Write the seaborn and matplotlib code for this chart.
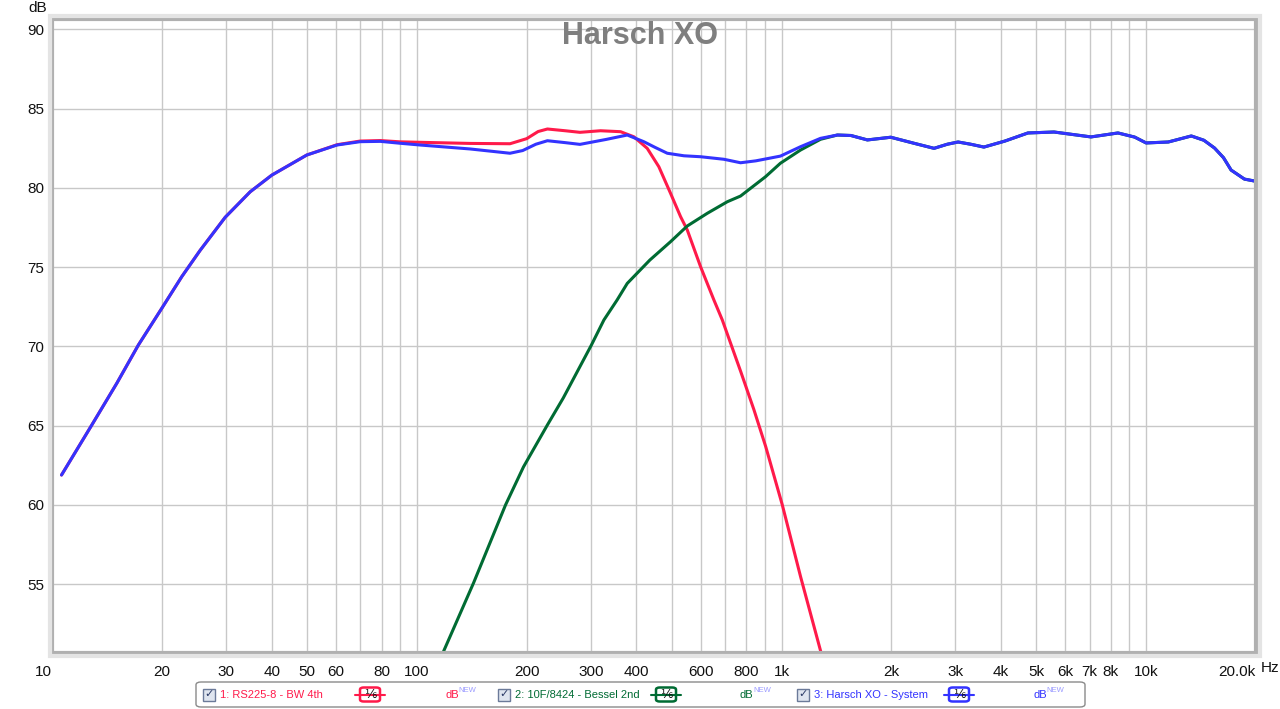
import numpy as np
import pandas as pd
import matplotlib
matplotlib.use('Agg')
import matplotlib.pyplot as plt
from matplotlib.patches import FancyBboxPatch, Rectangle
from matplotlib.lines import Line2D
import seaborn as sns

# values (Hz, dB)
sys_freq = [10.6, 12.83, 15.03, 17.22, 19.97, 22.66, 25.43, 29.8, 34.9, 40.0, 49.9, 60.4,
            69.9, 79.4, 90, 102, 140, 180, 195, 212, 228, 255, 280, 330, 377.5, 419, 450,
            486, 540, 600, 695, 772, 850, 993, 1127, 1279, 1423, 1550, 1720, 1993, 2308,
            2620, 2850, 3050, 3300, 3590, 4100, 4740, 5590, 7060, 8370, 9300, 10000, 11500,
            13300, 14400, 15400, 16300, 17100, 18600, 19800]
sys_db = [61.88, 65.03, 67.67, 70.08, 72.4, 74.4, 76.05, 78.14, 79.75, 80.8, 82.07, 82.7,
          82.91, 82.93, 82.81, 82.7, 82.45, 82.18, 82.35, 82.75, 82.97, 82.85, 82.74, 83.05,
          83.33, 82.91, 82.55, 82.18, 82.02, 81.96, 81.8, 81.58, 81.7, 82.0, 82.59, 83.12,
          83.33, 83.3, 83.02, 83.19, 82.81, 82.49, 82.75, 82.89, 82.75, 82.57, 82.95, 83.46,
          83.52, 83.21, 83.46, 83.2, 82.83, 82.89, 83.27, 83.0, 82.51, 81.9, 81.12, 80.55,
          80.43]

woofer_freq = [10.6, 12.83, 15.03, 17.22, 19.97, 22.66, 25.43, 29.8, 34.9, 40.0, 49.9, 60.4,
               69.9, 79.4, 90, 102, 140, 180, 200, 215, 228, 255, 280, 318.8, 361.9, 393.5,
               428.2, 460.8, 496.2, 528.6, 551.4, 599.8, 652.5, 688, 773, 840, 905,
               1005, 1128, 1300]
woofer_db = [61.88, 65.03, 67.67, 70.08, 72.4, 74.4, 76.05, 78.14, 79.75, 80.8, 82.07, 82.72,
             82.95, 82.98, 82.9, 82.87, 82.8, 82.78, 83.1, 83.55, 83.71, 83.6, 83.5, 83.6,
             83.54, 83.22, 82.49, 81.33, 79.65, 78.18, 77.34, 75.02, 72.92, 71.66,
             68.4, 66.0, 63.67, 59.99, 55.46, 50.2]

tweeter_freq = [116, 143, 175, 196, 228, 252, 301, 325.7, 354, 377.5, 435.3, 496.2, 551.4,
                625.6, 710, 772, 904, 993, 1127, 1279, 1423, 1550, 1720, 1993, 2308, 2620,
                2850, 3050, 3300, 3590, 4100, 4740, 5590, 7060, 8370, 9300, 10000, 11500,
                13300, 14400, 15400, 16300, 17100, 18600, 19800]
tweeter_db = [50.3, 55.07, 59.99, 62.39, 65.04, 66.74, 70.08, 71.66, 72.92, 73.97, 75.44,
              76.6, 77.59, 78.39, 79.12, 79.48, 80.7, 81.55, 82.38, 83.06, 83.33, 83.3, 83.02,
              83.19, 82.81, 82.49, 82.75, 82.89, 82.75, 82.57, 82.95, 83.46, 83.52, 83.21,
              83.46, 83.2, 82.83, 82.89, 83.27, 83.0, 82.51, 81.9, 81.12, 80.55, 80.43]

grid_freqs = [10, 20, 30, 40, 50, 60, 70, 80, 90, 100, 200, 300, 400, 500, 600, 700, 800, 900,
              1000, 2000, 3000, 4000, 5000, 6000, 7000, 8000, 9000, 10000, 20000]
freq_labels = ['10', '20', '30', '40', '50', '60', '', '80', '', '100', '200', '300', '400', '',
               '600', '', '800', '', '1k', '2k', '3k', '4k', '5k', '6k', '7k', '8k', '', '10k', '20.0k']
db_ticks = [55, 60, 65, 70, 75, 80, 85, 90]

RED = '#ff1a4a'
GREEN = '#006b33'
BLUE = '#3333ff'

sns.set_style('white')
plt.rcParams['font.family'] = ['Liberation Sans', 'DejaVu Sans']

fig = plt.figure(figsize=(12.8, 7.09), dpi=100)
W, H = 1280, 709
ax = fig.add_axes([52.3 / W, 56 / H, (1255.9 - 52.3) / W, (653 - 19) / H])

woofer = pd.DataFrame({'Hz': woofer_freq, 'dB': woofer_db})
tweeter = pd.DataFrame({'Hz': tweeter_freq, 'dB': tweeter_db})
system = pd.DataFrame({'Hz': sys_freq, 'dB': sys_db})

sns.lineplot(data=woofer, x='Hz', y='dB', ax=ax, color=RED, lw=2.2)
sns.lineplot(data=tweeter, x='Hz', y='dB', ax=ax, color=GREEN, lw=2.2)
sns.lineplot(data=system, x='Hz', y='dB', ax=ax, color=BLUE, lw=2.2)

ax.set_xscale('log')
ax.set_xlim(10, 20000)
ax.set_ylim(50.65, 90.65)
ax.set_xticks(grid_freqs)
ax.set_xticklabels(freq_labels)
ax.xaxis.set_minor_locator(matplotlib.ticker.NullLocator())
ax.set_yticks(db_ticks)
ax.set_yticklabels([str(v) for v in db_ticks])
ax.tick_params(axis='both', length=0, labelsize=11, colors='#111111')
ax.tick_params(axis='x', pad=9)
ax.tick_params(axis='y', pad=6)
xl = ax.get_xticklabels()
xl[0].set_ha('right')
xl[-1].set_ha('right')
ax.grid(True, color='#c8c8c8', lw=1)
ax.set_axisbelow(True)
ax.set_xlabel('')
ax.set_ylabel('')
for s in ax.spines.values():
    s.set_color('#b0b0b0')
    s.set_linewidth(3)

# soft frame shadow
fig.patches.append(Rectangle((52.3 / W - 0.002, 56 / H - 0.004), (1255.9 - 52.3) / W + 0.005,
                             (653 - 19) / H + 0.008, transform=fig.transFigure,
                             fill=False, ec='#e4e4e4', lw=3, zorder=0))

fig.text(640 / W, 1 - 36 / H, 'Harsch XO', ha='center', va='center', fontsize=22,
         fontweight='bold', color='#7f7f7f')
fig.text(38 / W, 1 - 8 / H, 'dB', ha='center', va='center', fontsize=11, color='#111111')
fig.text(1261 / W, 1 - 668 / H, 'Hz', ha='left', va='center', fontsize=11, color='#111111')

# legend strip at the bottom
fig.patches.append(FancyBboxPatch((196 / W, 1 - 707 / H), (1085 - 196) / W, 25 / H,
                                  boxstyle='round,pad=0,rounding_size=0.004',
                                  transform=fig.transFigure, fc='white', ec='#8a8a8a', lw=1))

items = [('1: RS225-8 - BW 4th', RED, 203, 370, 445),
         ('2: 10F/8424 - Bessel 2nd', GREEN, 498, 666, 740),
         ('3: Harsch XO - System', BLUE, 797, 959, 1033)]
yc = 1 - 694.5 / H
for name, col, xb, xbadge, xdb in items:
    fig.patches.append(Rectangle((xb / W, yc - 6 / H), 12 / W, 12 / H, transform=fig.transFigure,
                                 fc='#dfe5ef', ec='#6b7a99', lw=1))
    fig.text((xb + 6) / W, yc, '\u2713', ha='center', va='center', fontsize=8, color='#2b3a66')
    fig.text((xb + 17) / W, yc, name, ha='left', va='center', fontsize=8, color=col)
    fig.lines.append(Line2D([(xbadge - 15) / W, (xbadge + 15) / W], [yc, yc],
                            transform=fig.transFigure, color=col, lw=1.5))
    fig.patches.append(FancyBboxPatch(((xbadge - 10) / W, yc - 7 / H), 20 / W, 14 / H,
                                      boxstyle='round,pad=0,rounding_size=0.003',
                                      transform=fig.transFigure, fc='white', ec=col, lw=1.8))
    fig.text(xbadge / W, yc, '\u2159', ha='center', va='center', fontsize=9, color='#111111')
    fig.text(xdb / W, yc, 'dB', ha='left', va='center', fontsize=8, color=col)
    fig.text((xdb + 13) / W, yc + 4 / H, 'NEW', ha='left', va='center', fontsize=5.5,
             color='#9a9aff')

fig.savefig('out.png', dpi=100)
